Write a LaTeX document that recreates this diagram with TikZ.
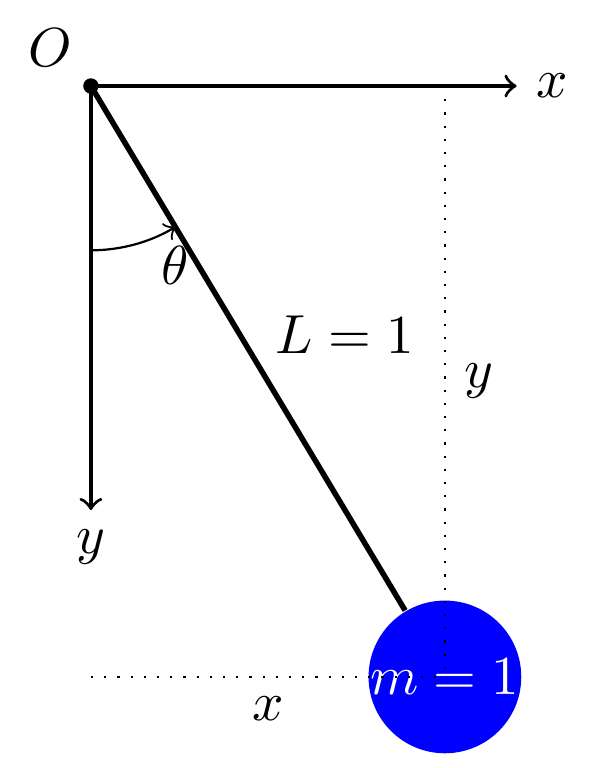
\documentclass[tikz,border=0pt]{standalone}
\usepackage{amsmath}

\begin{document}
\begin{tikzpicture}[axis/.style={semithick,->},
    rod/.style={line width=1pt},
    guide/.style={dotted},
    mass/.style={circle,fill=blue,text=white,inner sep=0pt}]
    \useasboundingbox (-0.581,-4.358) rectangle (3.316,0.5495);
    \coordinate (O) at (0,0);
    \coordinate (xend) at (2.72,0);
    \coordinate (yend) at (0,-2.71);
    \coordinate (arcstart) at (0,-1.05);
    \node[mass] (m) at (2.262,-3.776) {$m=1$};
    \draw[axis] (O) -- (xend) node[right] {$x$};
    \draw[axis] (O) -- (yend) node[below] {$y$};
    \draw[rod] (O) -- (m) node[midway,above right,shift={(0.04,-0.17)}] {$L=1$};
    \fill (O) circle (1.4pt) node[above left] {$O$};
    \draw[->] (arcstart) arc[start angle=-90,end angle=-59.1,radius=1.05]
        node[below] {$\theta$};
    \draw[guide] (m.center |- O) -- (m.center) node[midway,right] {$y$};
    \draw[guide] (O |- m.center) -- (m.center) node[midway,below] {$x$};
\end{tikzpicture}
\end{document}
